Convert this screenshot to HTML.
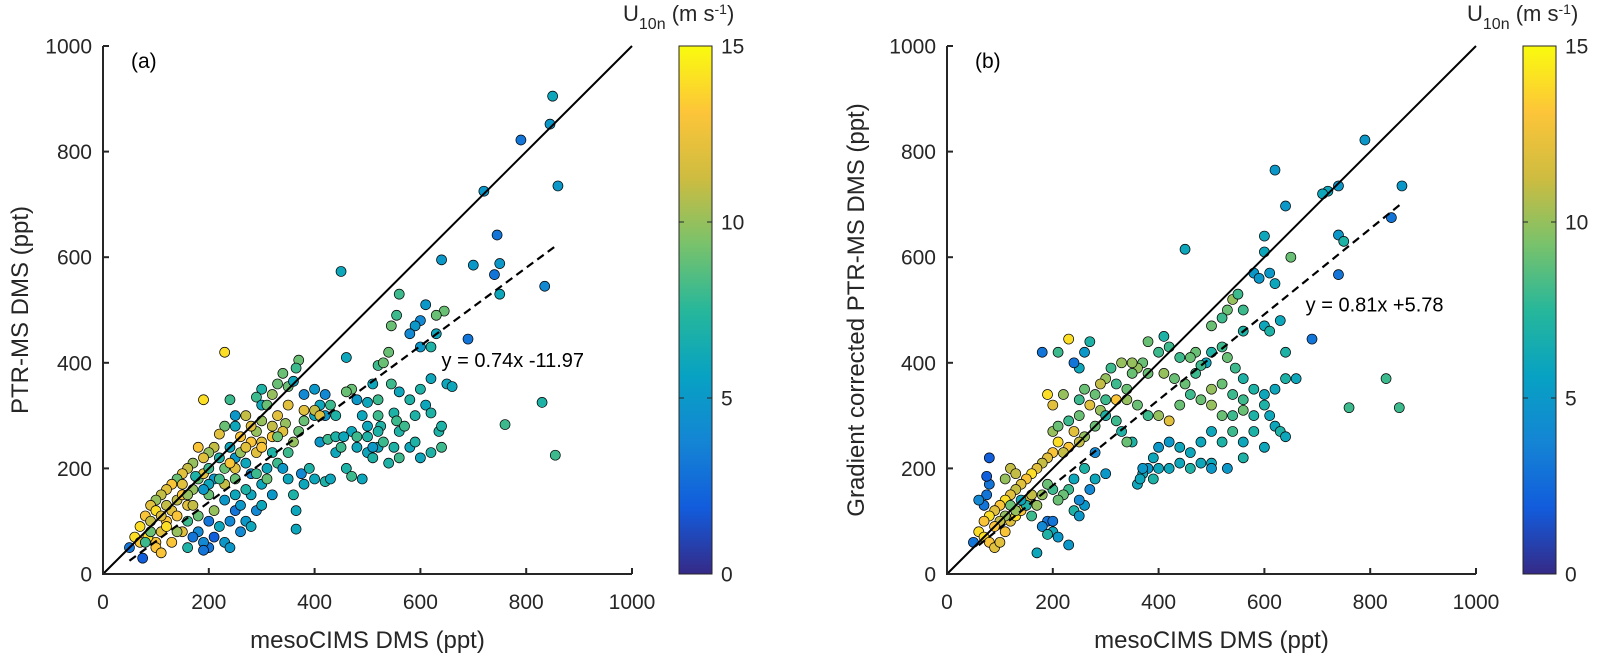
<!DOCTYPE html>
<html><head><meta charset="utf-8">
<style>
html,body{margin:0;padding:0;background:#fff;}
svg{display:block;font-family:"Liberation Sans",Arial,sans-serif;}
</style></head>
<body>
<svg id="fig" width="1607" height="657" viewBox="0 0 1607 657">
<defs>
<linearGradient id="parula" x1="0" y1="1" x2="0" y2="0">
<stop offset="0" stop-color="rgb(53,42,135)"/><stop offset="0.125" stop-color="rgb(18,92,220)"/>
<stop offset="0.25" stop-color="rgb(20,133,212)"/><stop offset="0.375" stop-color="rgb(7,162,195)"/>
<stop offset="0.5" stop-color="rgb(39,183,154)"/><stop offset="0.625" stop-color="rgb(121,194,107)"/>
<stop offset="0.75" stop-color="rgb(206,188,64)"/><stop offset="0.875" stop-color="rgb(253,197,57)"/>
<stop offset="1" stop-color="rgb(249,251,14)"/>
</linearGradient>
</defs>
</svg>
<script>
// Panel (a): [mesoCIMS, PTR-MS, U10n]
const pointsA = [[850,905,6],[790,822,3],[845,852,5],[860,735,5],[720,725,5],[745,642,3],[740,567,3],[750,588,5],[835,545,4],[830,325,7],[760,283,8],[855,225,8],[690,445,3],[700,585,5],[750,530,6],[640,595,5],[645,498,9],[630,490,9],[610,510,5],[600,480,4],[590,470,5],[580,455,4],[560,530,8],[555,490,8],[545,470,9],[520,395,8],[530,400,9],[540,420,9],[450,573,6],[630,455,6],[620,430,7],[600,430,5],[650,360,6],[660,355,6],[620,370,6],[600,350,7],[580,330,7],[560,345,6],[545,360,8],[520,330,8],[500,325,6],[510,360,6],[470,350,9],[460,345,9],[480,330,5],[490,300,6],[550,305,7],[555,290,8],[525,280,7],[520,300,8],[500,280,6],[470,270,6],[440,300,7],[430,320,8],[420,300,5],[400,300,6],[410,320,6],[420,340,4],[460,410,6],[400,350,5],[380,340,4],[370,405,9],[365,390,8],[350,355,9],[360,365,6],[340,380,9],[330,360,9],[320,340,10],[300,350,7],[290,335,8],[300,320,6],[310,320,9],[330,300,12],[345,285,10],[340,270,12],[320,260,13],[300,250,12],[290,270,10],[280,280,12],[270,300,11],[250,300,5],[240,330,8],[250,280,6],[230,280,9],[220,265,12],[210,240,11],[200,230,10],[190,220,12],[180,240,13],[170,210,10],[160,200,11],[150,190,12],[140,180,9],[130,170,13],[120,160,12],[110,150,11],[100,140,10],[90,130,12],[80,110,13],[70,90,14],[60,70,14],[50,50,3],[75,30,2],[100,60,13],[110,80,12],[90,100,11],[100,120,14],[120,100,13],[130,120,12],[140,140,11],[150,150,13],[160,130,12],[170,160,10],[180,180,9],[190,190,12],[200,200,8],[210,180,5],[220,220,7],[230,200,9],[240,240,6],[250,220,5],[260,230,10],[270,210,6],[280,190,4],[290,230,12],[300,240,13],[310,200,6],[320,230,7],[330,210,8],[340,200,5],[350,180,6],[360,150,7],[365,120,6],[365,85,6],[375,190,4],[380,170,6],[390,200,7],[400,180,6],[410,250,5],[420,175,7],[430,180,6],[440,230,6],[460,200,7],[470,185,8],[490,180,6],[500,230,6],[510,220,7],[520,240,6],[540,210,7],[550,240,7],[560,220,8],[580,240,6],[590,250,7],[600,220,6],[620,230,7],[640,240,8],[635,270,7],[640,280,7],[510,240,5],[480,240,6],[200,50,3],[190,60,4],[210,70,2],[230,60,5],[240,50,5],[260,80,4],[250,120,3],[270,100,5],[280,90,6],[290,120,4],[300,130,6],[240,100,4],[220,90,6],[200,100,3],[180,80,4],[170,70,3],[160,50,7],[190,45,3],[230,140,5],[250,150,6],[260,130,5],[280,150,6],[300,170,6],[320,150,5],[190,330,14],[230,420,14],[120,90,14],[140,110,13],[150,80,12],[130,60,13],[100,50,13],[85,70,14],[70,60,13],[110,40,13],[200,150,9],[210,120,10],[150,170,12],[170,130,11],[180,110,9],[160,100,8],[140,80,10],[120,130,11],[110,110,12],[90,80,9],[80,60,8],[230,170,11],[250,180,9],[270,160,7],[290,190,8],[310,180,9],[330,260,9],[350,230,8],[360,250,10],[370,270,9],[380,290,9],[260,260,13],[280,250,13],[270,240,12],[250,200,12],[240,210,13],[220,180,8],[200,170,6],[190,160,5],[175,185,7],[160,150,10],[300,290,10],[320,280,11],[350,320,12],[380,310,12],[400,310,11],[410,300,12],[425,255,8],[440,260,7],[450,240,8],[455,260,6],[480,260,8],[500,260,7],[520,270,7],[530,250,8],[560,270,7],[570,280,8],[590,300,7],[610,320,6],[620,305,7]];
// Panel (b): [mesoCIMS, corrected PTR-MS, U10n]
const pointsB = [[790,822,5],[620,765,5],[640,697,5],[720,725,6],[740,735,5],[710,720,6],[860,735,5],[840,675,3],[740,642,5],[740,567,3],[750,630,7],[600,640,6],[580,570,5],[590,560,5],[610,570,5],[620,550,6],[600,610,6],[450,615,6],[650,600,9],[540,520,10],[530,500,9],[550,530,8],[560,500,8],[520,485,8],[500,470,9],[560,460,7],[600,470,6],[610,460,7],[630,480,6],[640,420,7],[660,370,6],[690,445,3],[640,370,7],[620,350,6],[600,340,6],[580,350,7],[560,370,7],[545,390,8],[530,410,9],[520,430,8],[500,420,7],[490,400,6],[480,395,8],[470,420,9],[460,410,9],[440,410,8],[420,430,8],[410,450,7],[400,420,8],[380,440,9],[370,400,9],[360,390,10],[350,380,9],[330,400,10],[310,390,8],[300,370,10],[290,360,11],[270,440,7],[260,420,5],[250,390,6],[240,400,3],[230,445,14],[210,420,8],[180,420,3],[190,340,14],[200,320,12],[220,340,10],[250,300,9],[270,320,12],[290,310,10],[320,330,13],[340,330,10],[360,320,9],[380,300,8],[400,300,10],[420,290,12],[440,320,9],[460,340,8],[480,330,9],[500,320,10],[520,300,9],[540,300,8],[560,310,9],[580,300,7],[600,320,7],[610,300,6],[620,280,6],[630,270,7],[640,260,6],[580,270,7],[560,250,6],[540,270,8],[520,250,7],[500,270,6],[480,250,6],[460,230,6],[440,240,6],[420,250,5],[400,240,5],[390,220,6],[380,200,5],[370,190,6],[390,180,7],[400,200,6],[420,200,6],[440,210,6],[460,200,7],[480,210,6],[500,210,6],[500,200,5],[530,200,5],[560,220,7],[600,240,6],[760,315,8],[830,370,8],[855,315,8],[360,170,6],[365,180,6],[370,200,5],[350,250,7],[340,250,9],[330,270,7],[320,290,8],[300,300,7],[280,280,9],[260,260,10],[250,250,11],[240,270,12],[230,240,13],[220,230,11],[210,250,14],[200,230,13],[190,220,12],[180,210,11],[170,200,12],[160,190,14],[150,180,13],[140,170,12],[130,160,11],[120,150,12],[110,140,14],[100,130,13],[90,120,12],[80,110,14],[70,100,13],[60,80,14],[50,60,3],[70,70,14],[80,60,13],[90,50,12],[100,60,12],[110,80,13],[120,100,12],[130,110,14],[140,120,13],[150,140,12],[160,150,11],[170,130,10],[180,150,10],[190,100,3],[180,90,4],[200,100,3],[200,80,6],[210,70,5],[190,75,7],[230,55,5],[170,40,6],[240,120,7],[250,110,5],[260,130,5],[250,140,4],[270,160,4],[280,180,6],[300,190,5],[280,230,4],[260,200,7],[240,180,6],[230,160,8],[220,150,9],[210,140,9],[200,160,8],[190,170,9],[160,110,8],[150,130,7],[140,140,6],[130,120,10],[120,130,9],[110,110,10],[100,100,11],[90,90,13],[80,170,3],[75,185,2],[80,220,2],[75,150,3],[70,130,3],[60,140,4],[120,200,11],[110,180,10],[130,190,11],[200,270,10],[210,280,9],[230,290,8],[250,330,8],[260,350,9],[280,340,9],[300,330,8],[320,360,8],[340,350,9],[350,400,10],[380,380,9],[410,380,10],[430,370,9],[450,360,9],[470,380,8],[500,350,10],[520,360,9],[540,340,8],[560,330,8]];
const xTicks = [0,200,400,600,800,1000];
const yTicks = [0,200,400,600,800,1000];
const cbTicks = [0,5,10,15];
const fitA = [0.74, -11.97];
const fitB = [0.81, 5.78];
const fitRangeA = [50, 860];
const fitRangeB = [60, 860];

const NS = "http://www.w3.org/2000/svg";
const svg = document.getElementById('fig');
function mk(tag, attrs, parent){const e=document.createElementNS(NS,tag);for(const k in attrs)e.setAttribute(k,attrs[k]);(parent||svg).appendChild(e);return e;}
const stops=[[0,[53,42,135]],[0.125,[18,92,220]],[0.25,[20,133,212]],[0.375,[7,162,195]],[0.5,[39,183,154]],[0.625,[121,194,107]],[0.75,[206,188,64]],[0.875,[253,197,57]],[1,[249,251,14]]];
function parula(u){let t=Math.max(0,Math.min(1,u/15));for(let i=0;i<stops.length-1;i++){const a=stops[i],b=stops[i+1];if(t<=b[0]){const f=(t-a[0])/(b[0]-a[0]);const c=a[1].map((v,j)=>Math.round(v+(b[1][j]-v)*f));return `rgb(${c})`;}}return 'rgb(249,251,14)';}

function panel(cfg){
  const X0=cfg.x0, Y0=574, W=529, H=528;
  const sx=v=>X0+v/1000*W, sy=v=>Y0-v/1000*H;
  const g=mk('g',{}); 
  
  const pg=mk('g',{},g);  
  cfg.pts.forEach(p=>{
    const c=mk('circle',{cx:sx(p[0]),cy:sy(p[1]),r:5,fill:parula(p[2]),stroke:'#000','stroke-width':0.7},pg);
    
    
  });
  const l=mk('line',{x1:sx(0),y1:sy(0),x2:sx(1000),y2:sy(1000),stroke:'#000','stroke-width':2},g);
  
  
  const [m,b]=cfg.fit,[a0,a1]=cfg.range;
  const fl=mk('line',{x1:sx(a0),y1:sy(m*a0+b),x2:sx(a1),y2:sy(m*a1+b),stroke:'#000','stroke-width':2.2,'stroke-dasharray':'8,5'},g);
  
  
  const ft=mk('text',{x:sx(cfg.eqX),y:sy(cfg.eqY),'font-size':20,fill:'#000'},g); ft.textContent=cfg.eq;
  
  
  const ax=mk('path',{d:`M${X0} ${Y0-H}V${Y0}H${X0+W}`,fill:'none',stroke:'#262626','stroke-width':2},g);
  
  
  xTicks.forEach(v=>{
    mk('line',{x1:sx(v),x2:sx(v),y1:Y0,y2:Y0-6,stroke:'#262626','stroke-width':2},g);
    const t=mk('text',{x:sx(v),y:609,'font-size':21,fill:'#262626','text-anchor':'middle'},g);t.textContent=v;
    
    
  });
  yTicks.forEach(v=>{
    mk('line',{x1:X0,x2:X0+6,y1:sy(v),y2:sy(v),stroke:'#262626','stroke-width':2},g);
    const t=mk('text',{x:X0-11,y:sy(v)+7.5,'font-size':21,fill:'#262626','text-anchor':'end'},g);t.textContent=v;
    
    
  });
  const xl=mk('text',{x:X0+W/2,y:648,'font-size':24,fill:'#262626','text-anchor':'middle'},g);xl.textContent='mesoCIMS DMS (ppt)';
  
  
  const yl=mk('text',{x:0,y:0,'font-size':24,fill:'#262626','text-anchor':'middle',transform:`translate(${cfg.ylX},${Y0-H/2}) rotate(-90)`},g);yl.textContent=cfg.ylab;
  
  
  const pl=mk('text',{x:X0+28,y:68,'font-size':21,fill:'#000'},g);pl.textContent=cfg.tag;
  
  
  const cx=cfg.cbX, cw=33;
  const cb=mk('rect',{x:cx,y:Y0-H,width:cw,height:H,fill:'url(#parula)',stroke:'#262626','stroke-width':1},g);
  
  
  cbTicks.forEach(v=>{
    const y=Y0-v/15*H;
    mk('line',{x1:cx,x2:cx+5,y1:y,y2:y,stroke:'#262626','stroke-width':1},g);
    mk('line',{x1:cx+cw-5,x2:cx+cw,y1:y,y2:y,stroke:'#262626','stroke-width':1},g);
    const t=mk('text',{x:cx+cw+9,y:y+7.5,'font-size':21,fill:'#262626'},g);t.textContent=v;
    
    
  });
  const ct=mk('text',{x:cx-56,y:21,'font-size':22,fill:'#262626'},g);
  ct.innerHTML='U<tspan font-size="16" dy="8">10n</tspan><tspan dy="-8"> (m s</tspan><tspan font-size="14" dy="-7">-1</tspan><tspan dy="7">)</tspan>';
  
  
}
panel({name:'panel-a',x0:103,pts:pointsA,fit:fitA,range:fitRangeA,eq:'y = 0.74x -11.97',eqX:640,eqY:392,ylab:'PTR-MS DMS (ppt)',ylX:28,tag:'(a)',cbX:679});
panel({name:'panel-b',x0:947,pts:pointsB,fit:fitB,range:fitRangeB,eq:'y = 0.81x +5.78',eqX:678,eqY:497,ylab:'Gradient corrected PTR-MS DMS (ppt)',ylX:864,tag:'(b)',cbX:1523});
</script>
</body></html>
